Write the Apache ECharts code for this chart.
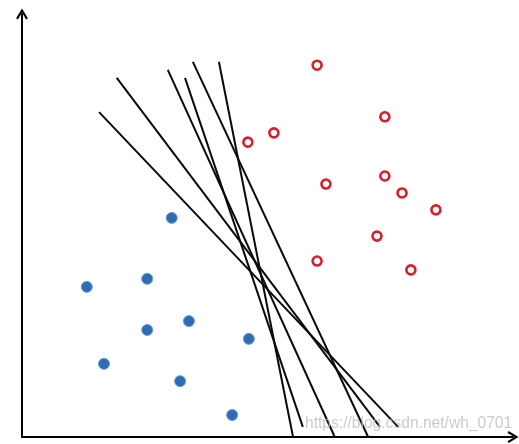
<!DOCTYPE html>
<html>
<head>
<meta charset="utf-8">
<script src="https://cdn.jsdelivr.net/npm/echarts@6/dist/echarts.min.js"></script>
<style>
html,body{margin:0;padding:0;background:#fff;}
#chart{width:519px;height:444px;}
</style>
</head>
<body>
<div id="chart"></div>
<script>
// Class A (red, hollow) points
const redX = [6.01, 7.39, 5.13, 4.60, 6.19, 7.39, 7.74, 8.43, 7.23, 6.01, 7.92];
const redY = [8.79, 7.57, 7.19, 6.97, 5.98, 6.17, 5.77, 5.37, 4.75, 4.16, 3.95];
// Class B (blue, filled) points
const blueX = [3.05, 1.32, 2.55, 3.40, 2.55, 4.62, 1.67, 3.22, 4.28];
const blueY = [5.18, 3.55, 3.74, 2.74, 2.53, 2.32, 1.73, 1.32, 0.52];
// Candidate separating lines: start and end points
const lineX1 = [1.57, 1.93, 2.97, 3.32, 3.48, 4.01];
const lineY1 = [7.68, 8.49, 8.68, 8.49, 8.87, 8.87];
const lineX2 = [7.66, 7.29, 6.37, 5.72, 7.05, 5.52];
const lineY2 = [0.24, 0.24, 0.00, 0.24, 0.00, 0.00];
const watermark = 'https://blog.csdn.net/wh_0701';

const chart = echarts.init(document.getElementById('chart'), null, {renderer: 'canvas'});
const arrowPath = 'path://M0,10 L6,0 L12,10 L10.2,11.2 L6,4 L1.8,11.2 Z';
const axisBase = {
  type: 'value', min: 0, max: 10,
  splitLine: {show: false}, axisTick: {show: false}, axisLabel: {show: false},
  axisLine: {show: true, onZero: false, symbol: ['none', arrowPath], symbolSize: [14, 11],
    lineStyle: {color: '#000', width: 2}}
};
const series = [];
lineX1.forEach((x, i) => {
  series.push({
    type: 'line', data: [[x, lineY1[i]], [lineX2[i], lineY2[i]]],
    symbol: 'none', lineStyle: {color: '#0a0a0a', width: 2}, z: 2, silent: true
  });
});
series.push({
  type: 'scatter', data: blueX.map((x, i) => [x, blueY[i]]),
  symbol: 'circle', symbolSize: 11,
  itemStyle: {color: '#2e6cb4', borderColor: '#6c9ad2', borderWidth: 1, opacity: 1}, z: 3
});
series.push({
  type: 'scatter', data: redX.map((x, i) => [x, redY[i]]),
  symbol: 'circle', symbolSize: 9,
  itemStyle: {color: '#fff', borderColor: '#d61f2c', borderWidth: 2.6, opacity: 1}, z: 3
});
chart.setOption({
  animation: false,
  backgroundColor: '#fff',
  grid: {left: 22, right: 6, top: 14, bottom: 7, containLabel: false},
  xAxis: Object.assign({}, axisBase),
  yAxis: Object.assign({}, axisBase),
  series: series,
  graphic: [{
    type: 'text', left: 305, top: 416, z: 100,
    style: {text: watermark, font: '15.6px "Liberation Sans", Arial, sans-serif',
      fill: 'rgba(190,190,190,0.8)'}
  }]
});
</script>
</body>
</html>
